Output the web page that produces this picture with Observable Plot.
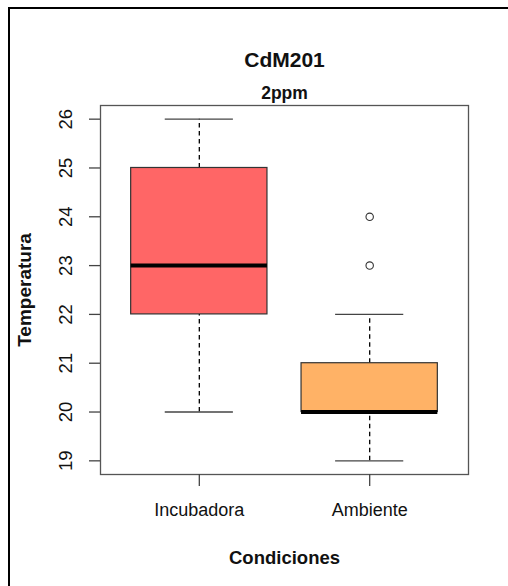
<!DOCTYPE html>
<html>
<head>
<meta charset="utf-8">
<script src="https://cdn.jsdelivr.net/npm/d3@7"></script>
<script src="https://cdn.jsdelivr.net/npm/@observablehq/plot@0.6"></script>
<style>
  html, body { margin: 0; padding: 0; background: #fff; }
  #wrap { position: relative; width: 508px; height: 586px; overflow: hidden; font-family: "Liberation Sans", Arial, sans-serif; }
  #edge { position: absolute; left: 8px; top: 7px; right: -4px; bottom: -4px; border-left: 2px solid #000; border-top: 2px solid #000; }
  #chart { position: absolute; left: 0; top: 0; }
</style>
</head>
<body>
<div id="wrap"><div id="edge"></div><div id="chart"></div></div>
<script>
// Temperature by incubation condition (CdM201, 2ppm)
const groups = ["Incubadora", "Ambiente"];
const lowerWhisker = [20, 19];
const q1 = [22, 20];
const median = [23, 20];
const q3 = [25, 21];
const upperWhisker = [26, 22];
const outlierGroup = ["Ambiente", "Ambiente"];
const outlierValue = [23, 24];
const fills = ["#FF6666", "#FFB266"];
const yTicks = [19, 20, 21, 22, 23, 24, 25, 26];

const boxes = groups.map((g, i) => ({
  group: g, pos: i + 1, fill: fills[i],
  lo: lowerWhisker[i], q1: q1[i], med: median[i], q3: q3[i], hi: upperWhisker[i]
}));
const outliers = outlierGroup.map((g, i) => ({pos: groups.indexOf(g) + 1, value: outlierValue[i]}));

const boxHalf = 0.4, capHalf = 0.2;
const font = "Liberation Sans, Arial, sans-serif";

const chart = Plot.plot({
  width: 508,
  height: 586,
  marginLeft: 100,
  marginRight: 40,
  marginTop: 105,
  marginBottom: 112,
  style: {fontFamily: font, background: "transparent", overflow: "visible"},
  x: {type: "linear", domain: [0.42, 2.58], axis: null},
  y: {domain: [18.72, 26.28], axis: null},
  marks: [
    // whiskers
    Plot.ruleX(boxes, {x: "pos", y1: "q3", y2: "hi", stroke: "#000", strokeWidth: 1.3, strokeDasharray: "4.5,3.5"}),
    Plot.ruleX(boxes, {x: "pos", y1: "lo", y2: "q1", stroke: "#000", strokeWidth: 1.3, strokeDasharray: "4.5,3.5"}),
    // whisker caps
    Plot.ruleY(boxes, {y: "hi", x1: d => d.pos - capHalf, x2: d => d.pos + capHalf, stroke: "#444", strokeWidth: 1.3}),
    Plot.ruleY(boxes, {y: "lo", x1: d => d.pos - capHalf, x2: d => d.pos + capHalf, stroke: "#444", strokeWidth: 1.3}),
    // boxes
    Plot.rect(boxes, {x1: d => d.pos - boxHalf, x2: d => d.pos + boxHalf, y1: "q1", y2: "q3", fill: "fill", stroke: "#333", strokeWidth: 1.2}),
    // medians
    Plot.ruleY(boxes, {y: "med", x1: d => d.pos - boxHalf, x2: d => d.pos + boxHalf, stroke: "#000", strokeWidth: 4}),
    // outliers
    Plot.dot(outliers, {x: "pos", y: "value", r: 3.7, stroke: "#333", strokeWidth: 1.1, fill: "none"}),
    // plot frame
    Plot.frame({stroke: "#555", strokeWidth: 1.3}),
    // y axis ticks and rotated labels
    Plot.axisY({ticks: yTicks, tickSize: 11, tickFormat: () => "", label: null, stroke: "#444", strokeWidth: 1.3}),
    Plot.text(yTicks, {y: d => d, text: d => String(d), frameAnchor: "left", dx: -34, rotate: -90, textAnchor: "middle", lineAnchor: "middle", fontSize: 18.5, fill: "#111"}),
    // x axis ticks and labels
    Plot.axisX({ticks: [1, 2], tickSize: 12, tickFormat: () => "", label: null, stroke: "#444", strokeWidth: 1.3}),
    Plot.text(boxes, {x: "pos", text: "group", frameAnchor: "bottom", dy: 36, textAnchor: "middle", lineAnchor: "middle", fontSize: 18, fill: "#111"}),
    // titles
    Plot.text(["CdM201"], {frameAnchor: "top", dy: -45.5, text: d => d, fontSize: 21, fontWeight: "bold", fill: "#111", lineAnchor: "middle"}),
    Plot.text(["2ppm"], {frameAnchor: "top", dy: -12, text: d => d, fontSize: 17.5, fontWeight: "bold", fill: "#111", lineAnchor: "middle"}),
    Plot.text(["Temperatura"], {frameAnchor: "left", dx: -76, rotate: -90, text: d => d, fontSize: 19, fontWeight: "bold", fill: "#111", lineAnchor: "middle", textAnchor: "middle"}),
    Plot.text(["Condiciones"], {frameAnchor: "bottom", dy: 84, text: d => d, fontSize: 18.5, fontWeight: "bold", fill: "#111", lineAnchor: "middle", textAnchor: "middle"})
  ]
});
document.getElementById("chart").appendChild(chart);
</script>
</body>
</html>
